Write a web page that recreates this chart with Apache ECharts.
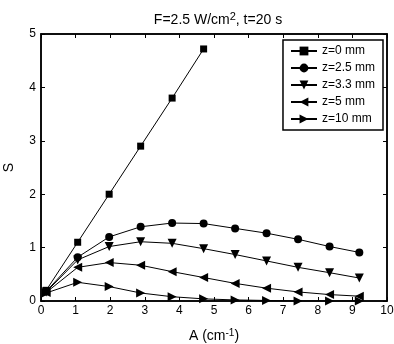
<!DOCTYPE html>
<html>
<head>
<meta charset="utf-8">
<script src="https://cdn.jsdelivr.net/npm/echarts@6/dist/echarts.min.js"></script>
<style>
  html, body { margin: 0; padding: 0; background: #fff; }
  #chart { width: 394px; height: 344px; }
</style>
</head>
<body>
<div id="chart"></div>
<script>
const aValues = [0.15, 1.06, 1.97, 2.88, 3.79, 4.7, 5.61, 6.52, 7.43, 8.34, 9.2];
const seriesNames = ['z=0 mm', 'z=2.5 mm', 'z=3.3 mm', 'z=5 mm', 'z=10 mm'];
const sZ0 = [0.2, 1.1, 2.0, 2.9, 3.8, 4.72];
const sZ25 = [0.18, 0.82, 1.2, 1.39, 1.46, 1.45, 1.36, 1.27, 1.155, 1.02, 0.91];
const sZ33 = [0.17, 0.77, 1.02, 1.11, 1.08, 0.98, 0.87, 0.75, 0.63, 0.53, 0.43];
const sZ5 = [0.16, 0.63, 0.72, 0.67, 0.55, 0.44, 0.33, 0.24, 0.17, 0.12, 0.09];
const sZ10 = [0.15, 0.35, 0.27, 0.15, 0.08, 0.04, 0.02, 0.01, 0.0, 0.0, 0.0];
const xTicks = [0, 1, 2, 3, 4, 5, 6, 7, 8, 9, 10];
const yTicks = [0, 1, 2, 3, 4, 5];

const allValues = [sZ0, sZ25, sZ33, sZ5, sZ10];
const symbols = ['rect', 'circle', 'triangle', 'triangle', 'triangle'];
const rotations = [0, 0, 180, 90, -90];
const sizes = [7, 8, 9, 9, 9];

const font = 'Liberation Sans, Arial, sans-serif';
const chart = echarts.init(document.getElementById('chart'));

function frameAxis(extra) {
  return Object.assign({
    type: 'value',
    show: true,
    axisLine: { show: true, onZero: false, lineStyle: { color: '#000', width: 1.5 } },
    axisTick: { show: true, inside: true, length: 4, lineStyle: { color: '#000', width: 1 } },
    splitLine: { show: false },
  }, extra);
}

const series = allValues.map((vals, i) => ({
  name: seriesNames[i],
  type: 'line',
  data: vals.map((v, j) => [aValues[j], v]),
  symbol: symbols[i],
  symbolSize: sizes[i],
  symbolRotate: rotations[i],
  showAllSymbol: true,
  lineStyle: { color: '#000', width: 1 },
  itemStyle: { color: '#000' },
  emphasis: { disabled: true },
  z: 3,
}));

// invisible series so the top and right axes are drawn
series.push({
  name: 'frame',
  type: 'line',
  xAxisIndex: 1,
  yAxisIndex: 1,
  data: [[0, 0]],
  symbol: 'none',
  lineStyle: { opacity: 0 },
  silent: true,
});

const supStyle = size => ({ fontFamily: font, fontSize: size, color: '#000', padding: [0, 0, 7, 0] });

chart.setOption({
  animation: false,
  title: {
    text: 'F=2.5 W/cm{sup|2}, t=20 s',
    left: 213,
    textAlign: 'center',
    top: 6,
    textStyle: {
      fontFamily: font, fontSize: 14, fontWeight: 'normal', color: '#000',
      rich: { sup: supStyle(11) },
    },
  },
  grid: {
    left: 41, right: 7, top: 34, bottom: 43,
    outerBoundsMode: 'none',
    show: true, borderColor: '#000', borderWidth: 1.5,
  },
  legend: {
    orient: 'vertical',
    right: 11,
    top: 40,
    padding: [5, 8, 5, 7],
    itemGap: 5,
    itemWidth: 26,
    itemHeight: 11,
    borderColor: '#000',
    borderWidth: 1.5,
    backgroundColor: '#fff',
    textStyle: { fontFamily: font, fontSize: 12, color: '#000' },
    data: seriesNames,
  },
  xAxis: [
    frameAxis({
      min: 0, max: 10, interval: 1, position: 'bottom',
      name: 'A (cm{sup|-1})',
      nameLocation: 'middle',
      nameGap: 27,
      nameTextStyle: {
        fontFamily: font, fontSize: 14, color: '#000',
        rich: { sup: supStyle(10) },
      },
      axisLabel: {
        fontFamily: font, fontSize: 12, color: '#000', margin: 4,
        formatter: v => xTicks.includes(v) ? String(v) : '',
      },
    }),
    frameAxis({
      min: 0, max: 10, interval: 1, position: 'top',
      axisLabel: { show: false },
    }),
  ],
  yAxis: [
    frameAxis({
      min: 0, max: 5, interval: 1, position: 'left',
      name: 'S',
      nameLocation: 'middle',
      nameGap: 25,
      nameTextStyle: { fontFamily: font, fontSize: 14, color: '#000' },
      axisLabel: {
        fontFamily: font, fontSize: 12, color: '#000', margin: 5,
        formatter: v => yTicks.includes(v) ? String(v) : '',
      },
    }),
    frameAxis({
      min: 0, max: 5, interval: 1, position: 'right',
      axisLabel: { show: false },
    }),
  ],
  series: series,
});
</script>
</body>
</html>
